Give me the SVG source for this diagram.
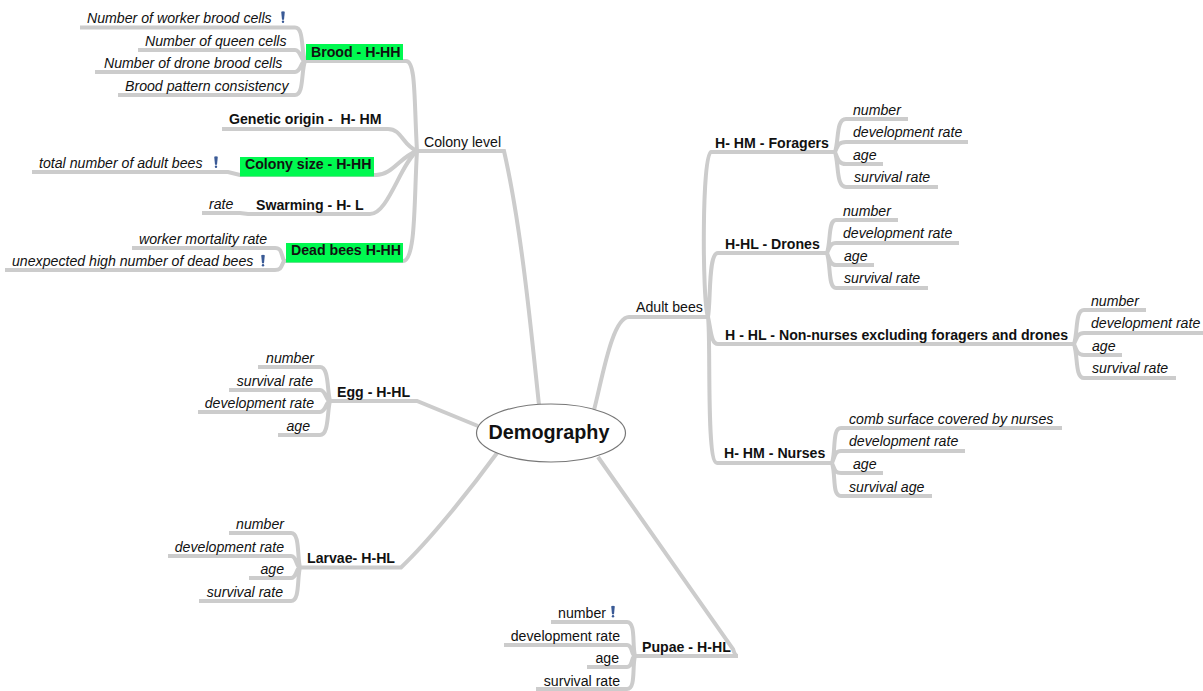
<svg xmlns="http://www.w3.org/2000/svg" width="1203" height="691" viewBox="0 0 1203 691">
<style>
text{font-family:"Liberation Sans",Arial,sans-serif;fill:#111}
.c{font-size:14.150px;font-style:italic}
.p{font-size:14.150px}
.b{font-size:14.150px;font-weight:bold}
.e{text-anchor:end}
#connectors path{fill:none;stroke:#ccc;stroke-width:4}
.g{fill:#00f950}
.n{fill:#3a5a96}
</style>
<defs>
<g id="i"><path class="n" d="M-1.800 0.300Q0-0.700 1.800 0.300L1 8.200H-1Z"/><circle class="n" cx="0" cy="10.200" r="1.200"/></g>
</defs>
<rect width="1203" height="691" fill="#fff"/>
<g id="connectors">
<path d="M539 405C532 340 522 230 504 151H417"/>
<path d="M417 151C414 100 416 61 406 61H305"/>
<path d="M417 151C402 145 402 129 388 129H222"/>
<path d="M417 151C400 157 392 175 376 175H240L228 172H32"/>
<path d="M417 151C400 165 388 214 370 214H248L240 213H202"/>
<path d="M417 151C414 200 416 261 403 261H284"/>
<path d="M80 27.500H295C304 27.500 301 50 305 61M138 50H295C301 50 301 61 305 61M95 72H295C301 72 301 61 305 61M118 95H295C304 95 301 72 305 61"/>
<path d="M284 261C281 254 282 248 275 248H132M284 261C281 266 282 270 275 270H5"/>
<path d="M478 426L417 401H330M258 367H320C329 367 327 390 330 401M229 390H320C326 390 326 401 330 401M198 412H320C326 412 326 401 330 401M278 435H320C329 435 327 412 330 401"/>
<path d="M497 453C470 490 430 540 401 567.500H300M229 533H291C300 533 297 556 300 567.500M168 556H291C297 556 296 567.500 300 567.500M199 601H291C300 601 297 578 300 567.500M249 578H291C297 578 296 567.500 300 567.500"/>
<path d="M598 457L733 649Q735 656 738 656H635M551 622H627C636 622 632 645 635 656M504 645H627C633 645 631 656 635 656M587 667H627C633 667 631 656 635 656M536 689H627C636 689 632 667 635 656"/>
<path d="M594 410C602 380 612 317 629 317H708"/>
<path d="M708 317C702 300 702 152 711 152H835M708 317C711 300 708 253 718 253H827M708 317C711 330 711 344 718 344H1074M708 317C711 340 706 463 717 463H832"/>
<path d="M835 152C839 140 836 119 846 119H908M835 152C838 145 839 142 846 142H968M835 152C838 160 839 164 846 164H883M835 152C839 165 836 187 846 187H938"/>
<path d="M827 253C831 241 828 220 836 220H898M827 253C830 246 831 243 836 243H959M827 253C830 261 831 265 836 265H874M827 253C831 266 828 288 836 288H928"/>
<path d="M1074 344C1078 332 1075 310 1084 310H1146M1074 344C1077 337 1078 333 1084 333H1203M1074 344C1077 352 1078 355 1084 355H1122M1074 344C1078 356 1075 378 1084 378H1176"/>
<path d="M832 463C836 451 832 428 841 428H1062M832 463C835 456 835 451 841 451H965M832 463C835 470 835 473 841 473H883M832 463C836 476 832 496 841 496H932"/>
</g>
<g id="demography"><ellipse cx="551" cy="433" rx="74.500" ry="29" fill="#fff" stroke="#777" stroke-width="1.200"/><text x="549" y="438.500" text-anchor="middle" font-size="19.800" font-weight="bold">Demography</text></g>
<g id="colony-level"><text class="p" x="424" y="147">Colony level</text></g>
<g id="brood"><rect class="g" x="306" y="44" width="97" height="16"/><text class="b" x="311" y="57">Brood - H-HH</text></g>
<g id="brood-c1"><text class="c" x="87" y="23">Number of worker brood cells</text><use href="#i" x="283" y="11.500"/></g>
<g id="brood-c2"><text class="c" x="145" y="46">Number of queen cells</text></g>
<g id="brood-c3"><text class="c" x="104" y="68">Number of drone brood cells</text></g>
<g id="brood-c4"><text class="c" x="125" y="91">Brood pattern consistency</text></g>
<g id="genetic"><text class="b" x="229" y="124" xml:space="preserve">Genetic origin -  H- HM</text></g>
<g id="colony-size"><rect class="g" x="240" y="157" width="134" height="19.500"/><text class="b" x="245" y="169">Colony size - H-HH</text></g>
<g id="total"><text class="c" x="39" y="168">total number of adult bees</text><use href="#i" x="216" y="156.500"/></g>
<g id="swarming"><text class="b" x="256" y="210">Swarming - H- L</text></g>
<g id="rate"><text class="c" x="209" y="209">rate</text></g>
<g id="dead"><rect class="g" x="286" y="243" width="117" height="19.500"/><text class="b" x="291" y="255">Dead bees H-HH</text></g>
<g id="dead-c1"><text class="c" x="139" y="244">worker mortality rate</text></g>
<g id="dead-c2"><text class="c" x="12" y="266">unexpected high number of dead bees</text><use href="#i" x="263" y="255"/></g>
<g id="egg"><text class="b" x="337" y="397">Egg - H-HL</text></g>
<g id="egg-c"><text class="c e" x="314" y="363">number</text><text class="c e" x="313" y="386">survival rate</text><text class="c e" x="314" y="408">development rate</text><text class="c e" x="310" y="431">age</text></g>
<g id="larvae"><text class="b" x="307" y="563">Larvae- H-HL</text></g>
<g id="larvae-c"><text class="c e" x="284" y="529">number</text><text class="c e" x="284" y="552">development rate</text><text class="c e" x="284" y="574">age</text><text class="c e" x="283" y="597">survival rate</text></g>
<g id="pupae"><text class="b" x="642" y="652">Pupae - H-HL</text></g>
<g id="pupae-c"><text class="p e" x="606" y="618">number</text><use href="#i" x="613" y="606"/><text class="p e" x="620" y="641">development rate</text><text class="p e" x="619" y="663">age</text><text class="p e" x="620" y="686">survival rate</text></g>
<g id="adult"><text class="p" x="636" y="312">Adult bees</text></g>
<g id="foragers"><text class="b" x="715" y="148">H- HM - Foragers</text></g>
<g id="foragers-c"><text class="c" x="853" y="115">number</text><text class="c" x="853" y="137">development rate</text><text class="c" x="853" y="160">age</text><text class="c" x="854" y="182">survival rate</text></g>
<g id="drones"><text class="b" x="725" y="249">H-HL - Drones</text></g>
<g id="drones-c"><text class="c" x="843" y="216">number</text><text class="c" x="843" y="238">development rate</text><text class="c" x="844" y="261">age</text><text class="c" x="844" y="283">survival rate</text></g>
<g id="non-nurses"><text class="b" x="725" y="340">H - HL - Non-nurses excluding foragers and drones</text></g>
<g id="non-nurses-c"><text class="c" x="1091" y="306">number</text><text class="c" x="1091" y="328">development rate</text><text class="c" x="1092" y="351">age</text><text class="c" x="1092" y="373">survival rate</text></g>
<g id="nurses"><text class="b" x="724" y="458">H- HM - Nurses</text></g>
<g id="nurses-c"><text class="c" x="849" y="424">comb surface covered by nurses</text><text class="c" x="849" y="446">development rate</text><text class="c" x="853" y="469">age</text><text class="c" x="849" y="492">survival age</text></g>
</svg>
